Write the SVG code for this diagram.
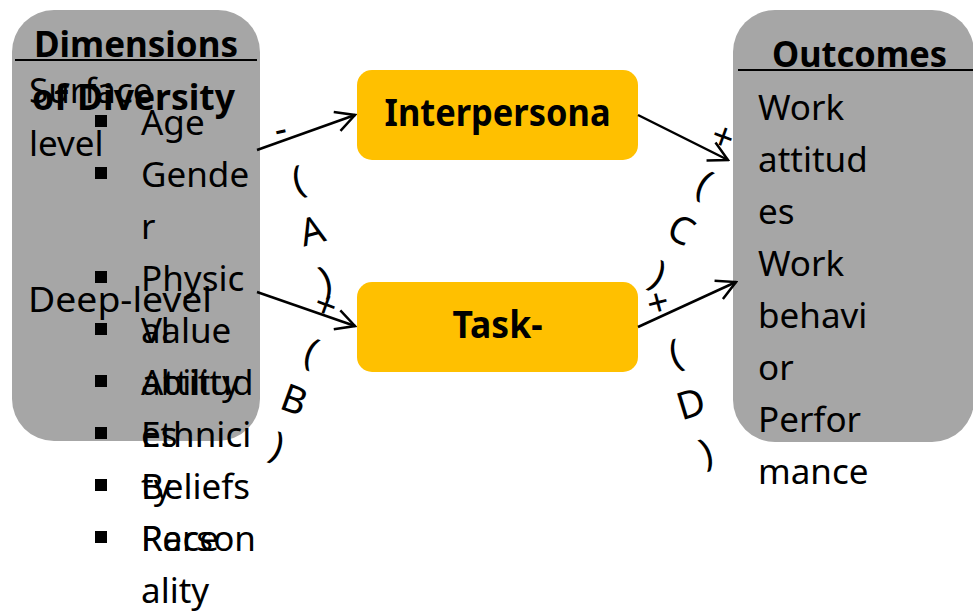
<svg xmlns="http://www.w3.org/2000/svg" width="973" height="612" viewBox="0 0 973 612">
<defs>
<style>
.box{fill:#A6A6A6}
.mid{fill:#FFC000}
.r{font-family:"Noto Sans","Open Sans",sans-serif;font-size:35px;fill:#000}
.bd{font-family:"Noto Sans","Open Sans",sans-serif;font-size:35px;font-weight:bold;fill:#000}
.bc{font-family:"Noto Sans","Open Sans",sans-serif;font-size:37px;font-weight:bold;fill:#000;text-anchor:middle}
.lb{font-family:"Noto Sans","DejaVu Sans",sans-serif;font-size:38px;fill:#000;text-anchor:middle}
.pl{font-family:"Noto Sans","DejaVu Sans",sans-serif;font-size:38px;fill:#000;text-anchor:middle}
.ul{stroke:#000;stroke-width:2}
.cn{stroke:#000;stroke-width:2.5;fill:none;marker-end:url(#arr)}
</style>
<marker id="arr" viewBox="-22 -12 24 24" refX="0" refY="0" markerWidth="24" markerHeight="24" orient="auto" markerUnits="userSpaceOnUse">
<path d="M-19,-10 L0,0 L-19,10" fill="none" stroke="#000" stroke-width="2.5"/>
</marker>
</defs>

<g id="dimensions">
<rect class="box" x="12" y="10" width="248" height="431" rx="42"/>
<text class="bd" x="34" y="57" textLength="204" lengthAdjust="spacingAndGlyphs">Dimensions</text>
<line class="ul" x1="15" y1="60" x2="257" y2="60"/>
<text class="r" x="29" y="103">Surface</text>
<text class="r" x="29" y="156">level</text>
<text class="bd" x="32" y="110" textLength="203" lengthAdjust="spacingAndGlyphs">of Diversity</text>
<text class="r" x="28" y="312" textLength="184" lengthAdjust="spacingAndGlyphs">Deep-level</text>
<g fill="#000">
<rect x="95" y="115" width="12" height="12"/>
<rect x="95" y="167" width="12" height="12"/>
<rect x="95" y="271" width="12" height="12"/>
<rect x="95" y="323" width="12" height="12"/>
<rect x="95" y="375" width="12" height="12"/>
<rect x="95" y="427" width="12" height="12"/>
<rect x="95" y="479" width="12" height="12"/>
<rect x="95" y="531" width="12" height="12"/>
</g>
<text class="r" x="141" y="135">Age</text>
<text class="r" x="141" y="187">Gende</text>
<text class="r" x="141" y="239">r</text>
<text class="r" x="141" y="291">Physic</text>
<text class="r" x="141" y="343">al</text>
<text class="r" x="141" y="395">ability</text>
<text class="r" x="141" y="447">Ethnici</text>
<text class="r" x="141" y="499">ty</text>
<text class="r" x="141" y="551">Race</text>
<text class="r" x="141" y="343">Value</text>
<text class="r" x="141" y="395">Attitud</text>
<text class="r" x="141" y="447">es</text>
<text class="r" x="141" y="499">Beliefs</text>
<text class="r" x="141" y="551">Person</text>
<text class="r" x="141" y="603">ality</text>
</g>

<g id="interpersonal">
<rect class="mid" x="357" y="70" width="281" height="90" rx="15"/>
<text class="bc" x="497.5" y="126" textLength="226" lengthAdjust="spacingAndGlyphs">Interpersona</text>
</g>

<g id="task">
<rect class="mid" x="357" y="282" width="281" height="90" rx="15"/>
<text class="bc" x="497.5" y="338" textLength="90" lengthAdjust="spacingAndGlyphs">Task-</text>
</g>

<g id="outcomes">
<rect class="box" x="733" y="10" width="241" height="432" rx="42"/>
<text class="bd" x="772" y="67" textLength="175" lengthAdjust="spacingAndGlyphs">Outcomes</text>
<line class="ul" x1="738" y1="70" x2="973" y2="70"/>
<text class="r" x="758" y="120">Work</text>
<text class="r" x="758" y="172">attitud</text>
<text class="r" x="758" y="224">es</text>
<text class="r" x="758" y="276">Work</text>
<text class="r" x="758" y="328">behavi</text>
<text class="r" x="758" y="380">or</text>
<text class="r" x="758" y="432">Perfor</text>
<text class="r" x="758" y="484">mance</text>
</g>

<g id="connectors">
<line class="cn" x1="257" y1="150" x2="355" y2="115"/>
<line class="cn" x1="257" y1="292" x2="355" y2="326"/>
<line class="cn" x1="638" y1="115" x2="728" y2="160"/>
<line class="cn" x1="638" y1="327" x2="736" y2="282"/>
</g>

<g id="labels">
<g transform="translate(281,132) rotate(-12)"><text class="lb" y="10">-</text></g>
<g transform="translate(326,305) rotate(20)"><text class="pl" y="13">+</text></g>
<g transform="translate(723,137) rotate(20)"><text class="pl" y="13">+</text></g>
<g transform="translate(658,303) rotate(-15)"><text class="pl" y="13">+</text></g>
<g transform="translate(312,231) rotate(-15)">
<text class="lb" y="-40">(</text><text class="lb" y="13">A</text><text class="lb" y="64">)</text>
</g>
<g transform="translate(294,400) rotate(20)">
<text class="lb" y="-38">(</text><text class="lb" y="13">B</text><text class="lb" y="62">)</text>
</g>
<g transform="translate(681,230) rotate(27)">
<text class="lb" y="-39">(</text><text class="lb" y="13">C</text><text class="lb" y="63">)</text>
</g>
<g transform="translate(691,404) rotate(-17)">
<text class="lb" y="-40">(</text><text class="lb" y="13">D</text><text class="lb" y="64">)</text>
</g>
</g>
</svg>
